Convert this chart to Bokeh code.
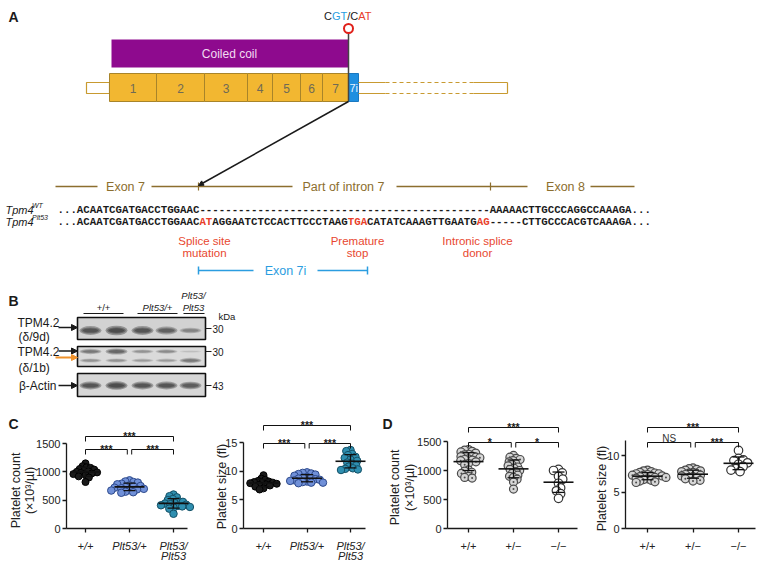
import numpy as np
from bokeh.plotting import figure
from bokeh.models import Range1d, Arrow, NormalHead, FixedTicker, LinearAxis
from bokeh.core.properties import value
from bokeh.embed import file_html
from bokeh.resources import INLINE

SANS = "Liberation Sans"
MONO = "Liberation Mono"

# ---------------- data ----------------
exon_names = ["1", "2", "3", "4", "5", "6", "7"]
exon_lengths = [47, 48, 43, 25, 28, 22, 26]
alt_exon_name = "7i"
codon_change = [("C", "k"), ("GT", "b"), ("/C", "k"), ("AT", "r")]

seq_wt = [("...ACAATCGATGACCTGGAAC", "k"), ("-" * 45, "k"),
          ("AAAAACTTGCCCAGGCCAAAGA...", "k")]
seq_plt53 = [("...ACAATCGATGACCTGGAAC", "k"), ("AT", "r"),
             ("AGGAATCTCCACTTCCCTAAG", "k"), ("TGA", "r"),
             ("CATATCAAAGTTGAATG", "k"), ("AG", "r"),
             ("-----CTTGCCCACGTCAAAGA...", "k")]

band_9d = [0.85, 0.95, 0.85, 0.75, 0.45]
band_1b_upper = [0.55, 0.7, 0.35, 0.4, 0.08]
band_1b_lower = [0.35, 0.35, 0.3, 0.3, 0.55]
band_actin = [0.85, 0.95, 0.85, 0.85, 0.8]
kda_marks = ["30", "30", "43"]

c_labels = ["+/+", "Plt53/+", "Plt53/\nPlt53"]
c_count_wt = [1150, 1100, 1080, 1070, 1050, 1040, 1020, 1010, 1000, 990, 980, 970, 960, 940, 920, 900, 820]
c_count_het = [850, 830, 820, 810, 790, 780, 760, 750, 740, 730, 720, 710, 700, 690, 680, 670, 650, 640, 630]
c_count_hom = [600, 570, 550, 520, 500, 480, 470, 450, 440, 430, 420, 410, 400, 390, 380, 370, 350, 260]
c_size_wt = [9.3, 8.7, 8.5, 8.3, 8.2, 8.1, 8.0, 8.0, 7.9, 7.8, 7.7, 7.6, 7.5, 7.3, 7.0, 6.8]
c_size_het = [9.8, 9.7, 9.6, 9.5, 9.4, 9.2, 9.0, 8.9, 8.8, 8.7, 8.6, 8.5, 8.4, 8.3, 8.2, 8.1, 8.0, 8.0, 7.9]
c_size_hom = [13.7, 13.5, 13.0, 12.8, 12.5, 12.3, 12.0, 11.8, 11.5, 11.3, 11.0, 10.8, 10.5, 10.4, 10.3, 10.2]

d_labels = ["+/+", "+/\u2212", "\u2212/\u2212"]
d_count_wt = [1360, 1350, 1330, 1320, 1300, 1280, 1270, 1250, 1240, 1230, 1220, 1200, 1190, 1180,
              1170, 1150, 1120, 1100, 1010, 990, 970, 950, 900, 880, 870]
d_count_het = [1260, 1230, 1210, 1190, 1170, 1150, 1120, 1100, 1080, 1060, 1040, 1020, 1000, 980,
               950, 920, 900, 880, 850, 800, 680]
d_count_ko = [1020, 1000, 960, 900, 850, 780, 700, 650, 600, 520]
d_size_wt = [8.0, 7.9, 7.8, 7.7, 7.6, 7.5, 7.5, 7.4, 7.3, 7.3, 7.2, 7.2, 7.1, 7.0, 7.0, 6.9, 6.8,
             6.7, 6.6, 6.5, 6.4, 6.3]
d_size_het = [8.3, 8.2, 8.1, 8.0, 7.9, 7.8, 7.7, 7.6, 7.5, 7.4, 7.3, 7.2, 7.1, 7.0, 6.9, 6.8, 6.6, 6.5]
d_size_ko = [10.7, 9.6, 9.4, 9.3, 9.0, 8.8, 8.5, 8.2, 8.0, 7.8]

sig_c_count = ["***", "***", "***"]
sig_c_size = ["***", "***", "***"]
sig_d_count = ["*", "*", "***"]
sig_d_size = ["NS", "***", "***"]

count_label = ["Platelet count", "(\u00d710\u00b3/\u00b5l)"]
size_label = ["Platelet size (fl)"]

# ---------------- helpers ----------------
W, H = 762, 564
COL = {"k": "#1a1a1a", "b": "#2a9de0", "r": "#e8402a"}
BROWN = "#8c6e2e"
RED = "#e8472f"
BLUE = "#2b9de0"

p = figure(width=W, height=H, x_range=Range1d(0, W), y_range=Range1d(H, 0),
           output_backend="svg", toolbar_location=None, min_border=0,
           x_axis_location=None, y_axis_location=None)
p.grid.visible = False
p.outline_line_color = None


def txt(x, y, s, size, color="#1a1a1a", align="center", baseline="middle",
        style="normal", font=SANS, angle=0.0, **kw):
    p.text(x=[x], y=[y], text=[s], text_font=value(font), text_font_size=f"{size}px",
           text_color=color, text_align=align, text_baseline=baseline,
           text_font_style=style, angle=angle, **kw)


def arrow(x0, y0, x1, y1, color="#1a1a1a", size=6, lw=1.5):
    p.add_layout(Arrow(end=NormalHead(size=size, fill_color=color, line_color=color),
                       x_start=x0, y_start=y0, x_end=x1, y_end=y1,
                       line_color=color, line_width=lw))


# ---------------- panel A ----------------
txt(13, 16, "A", 14, style="bold")

cw_em = {"C": 0.722, "G": 0.778, "T": 0.611, "/": 0.278, "A": 0.667}
fs = 11
x = 323.5
for s, c in codon_change:
    txt(x, 15, s, fs, color=COL[c], align="left")
    x += sum(cw_em[ch] for ch in s) * fs

p.quad(left=[111], right=[348], top=[39], bottom=[67], fill_color="#8e0a8e", line_color=None)
txt(229, 53, "Coiled coil", 12, color="#f2dcf2")

p.quad(left=[86], right=[109], top=[82], bottom=[93], fill_color="white",
       line_color="#c89a30", line_width=1.2)
edges = 109 + np.concatenate([[0], np.cumsum(exon_lengths)])
p.quad(left=edges[:-1], right=edges[1:], top=73, bottom=101, fill_color="#f2b731",
       line_color="#a8842a", line_width=1)
for i, name in enumerate(exon_names):
    txt((edges[i] + edges[i + 1]) / 2, 87.5, name, 12, color="#6f6a55")
e7 = edges[-1]
p.quad(left=[e7], right=[e7 + 10], top=[73], bottom=[101], fill_color="#1f8fe0",
       line_color="#1a78c0", line_width=1)
txt(e7 + 1, 87.5, alt_exon_name, 11, color="#e8f4ff", align="left")
ux0 = e7 + 10
p.segment(x0=[ux0, ux0, 473, 473], y0=[82, 93, 82, 93], x1=[385, 385, 507, 507],
          y1=[82, 93, 82, 93], line_color="#c89a30", line_width=1.2)
p.segment(x0=[385, 385], y0=[82, 93], x1=[473, 473], y1=[82, 93], line_color="#c89a30",
          line_width=1.2, line_dash="4 3")
p.segment(x0=[507], y0=[82], x1=[507], y1=[93], line_color="#c89a30", line_width=1.2)
p.segment(x0=[e7], y0=[32], x1=[e7], y1=[101], line_color="#444444", line_width=1.5)
p.scatter([e7], [28], size=9, marker="circle", fill_color="white", line_color="#e0201a",
          line_width=2)
arrow(e7, 101, 198, 185, size=5, lw=1.5)

ey = 186
p.segment(x0=[55, 151, 396, 590], y0=[ey] * 4, x1=[97, 292, 527, 634], y1=[ey] * 4,
          line_color=BROWN, line_width=1.5)
p.segment(x0=[198, 490], y0=[ey - 4] * 2, x1=[198, 490], y1=[ey + 4] * 2,
          line_color=BROWN, line_width=1.2)
txt(125, ey, "Exon 7", 12.5, color=BROWN)
txt(343, ey, "Part of intron 7", 12.5, color=BROWN)
txt(565, ey, "Exon 8", 12.5, color=BROWN)

cwid = 6.45
for yrow, parts in ((209, seq_wt), (221, seq_plt53)):
    n = 0
    for s, c in parts:
        txt(57 + n * cwid, yrow, s, cwid / 0.6, color=COL[c], align="left",
            style="bold", font=MONO)
        n += len(s)
txt(5, 209, "Tpm4", 11, align="left", style="italic")
txt(31.5, 205, "WT", 7, align="left", style="italic")
txt(5, 221, "Tpm4", 11, align="left", style="italic")
txt(31.5, 217, "Plt53", 7, align="left", style="italic")

txt(204, 240, "Splice site", 11.5, color=RED)
txt(204, 252, "mutation", 11.5, color=RED)
txt(357, 240, "Premature", 11.5, color=RED)
txt(357, 252, "stop", 11.5, color=RED)
txt(477, 240, "Intronic splice", 11.5, color=RED)
txt(477, 252, "donor", 11.5, color=RED)

by = 270
p.segment(x0=[198, 317, 198, 367], y0=[by, by, by - 4, by - 4], x1=[253, 367, 198, 367],
          y1=[by, by, by + 4, by + 4], line_color=BLUE, line_width=1.5)
txt(285, by, "Exon 7i", 12.5, color=BLUE)

# ---------------- panel B ----------------
txt(13, 300, "B", 14, style="bold")
txt(103, 307, "+/+", 9.5)
txt(157, 307, "Plt53/+", 9.5, style="italic")
txt(193, 295, "Plt53/", 9.5, style="italic")
txt(193, 307, "Plt53", 9.5, style="italic")
p.segment(x0=[83, 137, 183], y0=[313] * 3, x1=[123, 177, 204], y1=[313] * 3,
          line_color="#1a1a1a", line_width=1)
txt(218, 316, "kDa", 9.5, align="left")

lanes = np.array([90, 116, 142, 166, 190])
blots = [(317, 339), (346, 366), (373, 396)]
for (t, b), bg in zip(blots, ["#d2d2d2", "#dadada", "#d6d6d6"]):
    p.quad(left=[77], right=[205], top=[t], bottom=[b], fill_color=bg,
           line_color="#111111", line_width=1.6)


def bands(yc, inten, w=22, hmax=8):
    inten = np.array(inten)
    for fw, fh in [(1.0, 1.0), (0.85, 0.7), (0.7, 0.45)]:
        p.ellipse(x=lanes, y=[yc] * 5, width=w * fw, height=(2 + hmax * inten) * fh,
                  fill_color="#151515", fill_alpha=list(0.33 * inten + 0.02),
                  line_color=None)


bands(330, band_9d, hmax=8)
bands(351, band_1b_upper, hmax=6)
bands(360, band_1b_lower, hmax=6)
bands(385, band_actin, hmax=7)

for yk, kd in zip([328, 351, 385], kda_marks):
    p.segment(x0=[205], y0=[yk], x1=[211], y1=[yk], line_color="#1a1a1a", line_width=1)
    txt(212, yk, kd, 10, align="left")

txt(17, 322, "TPM4.2", 12, align="left")
txt(18, 336, "(\u03b4/9d)", 12, align="left")
arrow(58, 327, 77, 327, size=6)
txt(17, 351, "TPM4.2", 12, align="left")
txt(18, 367, "(\u03b4/1b)", 12, align="left")
arrow(58, 350.5, 77, 350.5, size=6)
arrow(55, 357, 77, 357, color="#f0922b", size=6, lw=2)
txt(56, 385, "\u03b2-Actin", 12, align="right")
arrow(58, 385, 77, 385, size=6)

# ---------------- panels C and D: dot plots ----------------
txt(13, 423, "C", 14, style="bold")
txt(387, 423, "D", 14, style="bold")
txt(15, 490, count_label[0], 12.5, color="#222222", angle=np.pi / 2)
txt(29.5, 490, count_label[1], 12.5, color="#222222", angle=np.pi / 2)
txt(221, 486, size_label[0], 12.5, color="#222222", angle=np.pi / 2)
txt(394, 487, count_label[0], 12.5, color="#222222", angle=np.pi / 2)
txt(409.5, 487, count_label[1], 12.5, color="#222222", angle=np.pi / 2)
txt(601, 488, size_label[0], 12.5, color="#222222", angle=np.pi / 2)


def beeswarm(vals, sy, sx, d):
    order = np.argsort(-np.asarray(vals), kind="stable")
    offs = np.zeros(len(vals))
    placed = []
    flip = 1
    for i in order:
        y = vals[i] * sy
        cands = [0.0]
        for xo, yo in placed:
            dy = abs(y - yo)
            if dy < d:
                dx = np.sqrt(d * d - dy * dy)
                cands += [xo + dx, xo - dx]
        cands.sort(key=lambda c: (round(abs(c), 3), -flip * c))
        chosen = 0.0
        for c in cands:
            if all((c - xo) ** 2 + (y - yo) ** 2 >= d * d - 1e-6 for xo, yo in placed):
                chosen = c
                break
        flip = -flip
        placed.append((chosen, y))
        offs[i] = chosen
    return offs / sx


STYLES = {
    "k": dict(marker="circle", size=7, fill_color="#1a1a1a", line_color="#000000", line_width=1),
    "b": dict(marker="circle", size=7.5, fill_color="#7090d8", line_color="#2e4a8c", line_width=1),
    "t": dict(marker="circle", size=7.5, fill_color="#2f8fb0", line_color="#145066", line_width=1),
    "g": dict(marker="circle_dot", size=8, fill_color="#d6d6d6", line_color="#4a4a4a", line_width=1.2),
    "o": dict(marker="circle", size=8.5, fill_color="white", line_color="#333333", line_width=1.2),
}
PACK = {"k": 0.58, "b": 0.58, "t": 0.58, "g": 0.5, "o": 0.6}

ZERO_Y = 528   # page row of the x axes
xr_all, yr_all = {}, {}


def style_axis(ax, italic=False):
    ax.axis_line_width = 1.3
    ax.axis_line_color = "#1a1a1a"
    ax.major_tick_line_width = 1.3
    ax.major_tick_line_color = "#1a1a1a"
    ax.major_tick_out = 4
    ax.major_tick_in = 0
    ax.minor_tick_line_color = None
    ax.minor_tick_out = 0
    ax.minor_tick_in = 0
    ax.major_label_text_font = SANS
    ax.major_label_text_font_size = "11px"
    ax.major_label_text_color = "#222222"
    if italic:
        ax.major_label_text_font_style = "italic"


def dotplot(name, cat1_px, sx, sy, axis_px, right_px, ybound, yticks, xlabels, italic,
            groups, kinds, sig, low_px, top_px):
    xs0 = 1 - cat1_px / sx
    ys0 = -(H - ZERO_Y) / sy
    xr_all[name] = Range1d(xs0, xs0 + W / sx)
    yr_all[name] = Range1d(ys0, ys0 + H / sy)
    rn = dict(x_range_name=name, y_range_name=name)
    x_lo = 1 + (axis_px - cat1_px) / sx
    x_hi = 1 + (right_px - cat1_px) / sx

    ya = LinearAxis(fixed_location=x_lo, bounds=(0, ybound), ticker=FixedTicker(ticks=yticks), **rn)
    style_axis(ya)
    ya.major_label_standoff = 2
    p.add_layout(ya, "left")

    lines = [s.split("\n") for s in xlabels]
    xa = LinearAxis(fixed_location=0, bounds=(x_lo, x_hi), ticker=FixedTicker(ticks=[1, 2, 3]),
                    major_label_overrides={i + 1: l[0] for i, l in enumerate(lines)}, **rn)
    style_axis(xa, italic)
    xa.major_label_standoff = 7
    p.add_layout(xa, "below")
    if any(len(l) > 1 for l in lines):
        xa2 = LinearAxis(fixed_location=0, ticker=FixedTicker(ticks=[1, 2, 3]),
                         major_label_overrides={i + 1: (l[1] if len(l) > 1 else "")
                                                for i, l in enumerate(lines)}, **rn)
        style_axis(xa2, italic)
        xa2.axis_line_color = None
        xa2.major_tick_line_color = None
        xa2.major_tick_out = 0
        xa2.major_label_standoff = 21
        p.add_layout(xa2, "below")

    for gi, (vals, kind) in enumerate(zip(groups, kinds)):
        vals = np.asarray(vals, float)
        st = STYLES[kind]
        offs = beeswarm(vals, sy, sx, st["size"] * PACK[kind])
        p.scatter(gi + 1 + offs, vals, **st, **rn)
        m = vals.mean()
        s = vals.std(ddof=1)
        hw, cw = 15 / sx, 6 / sx
        p.segment(x0=[gi + 1 - hw], y0=[m], x1=[gi + 1 + hw], y1=[m], line_color="#111111",
                  line_width=1.6, **rn)
        p.segment(x0=[gi + 1, gi + 1 - cw, gi + 1 - cw], y0=[m - s, m - s, m + s],
                  x1=[gi + 1, gi + 1 + cw, gi + 1 + cw], y1=[m + s, m - s, m + s],
                  line_color="#111111", line_width=1.3, **rn)

    low = (ZERO_Y - low_px) / sy
    hi = (ZERO_Y - top_px) / sy
    tk = 5 / sy
    spans = [(1, 1.95), (2.05, 3), (1, 3)]
    for (a, b), yb, lab in zip(spans, [low, low, hi], sig):
        p.line([a, a, b, b], [yb - tk, yb, yb, yb - tk], line_color="#111111",
               line_width=1, **rn)
        if lab == "NS":
            txt((a + b) / 2, yb + 4.5 / sy, lab, 10, color="#333333", baseline="alphabetic", **rn)
        else:
            txt((a + b) / 2, yb + 0.5 / sy, lab, 10.5, style="bold", baseline="alphabetic", **rn)


dotplot("c1", 85, 44, 85 / 1500, 66, 187, 1500, [0, 500, 1000, 1500], c_labels, True,
        [c_count_wt, c_count_het, c_count_hom], ["k", "b", "t"], sig_c_count, 449, 436)
dotplot("c2", 263, 43.5, 86 / 15, 243, 365, 15, [0, 5, 10, 15], c_labels, True,
        [c_size_wt, c_size_het, c_size_hom], ["k", "b", "t"], sig_c_size, 443, 425)
dotplot("d1", 468, 45, 87 / 1500, 447, 577, 1500, [0, 500, 1000, 1500], d_labels, False,
        [d_count_wt, d_count_het, d_count_ko], ["g", "g", "o"], sig_d_count, 442, 427)
dotplot("d2", 647, 45.5, 7.3, 625, 755, 12, [0, 5, 10], d_labels, False,
        [d_size_wt, d_size_het, d_size_ko], ["g", "g", "o"], sig_d_size, 442, 427)

p.extra_x_ranges = xr_all
p.extra_y_ranges = yr_all

open("out.html", "w").write(file_html(p, INLINE))
